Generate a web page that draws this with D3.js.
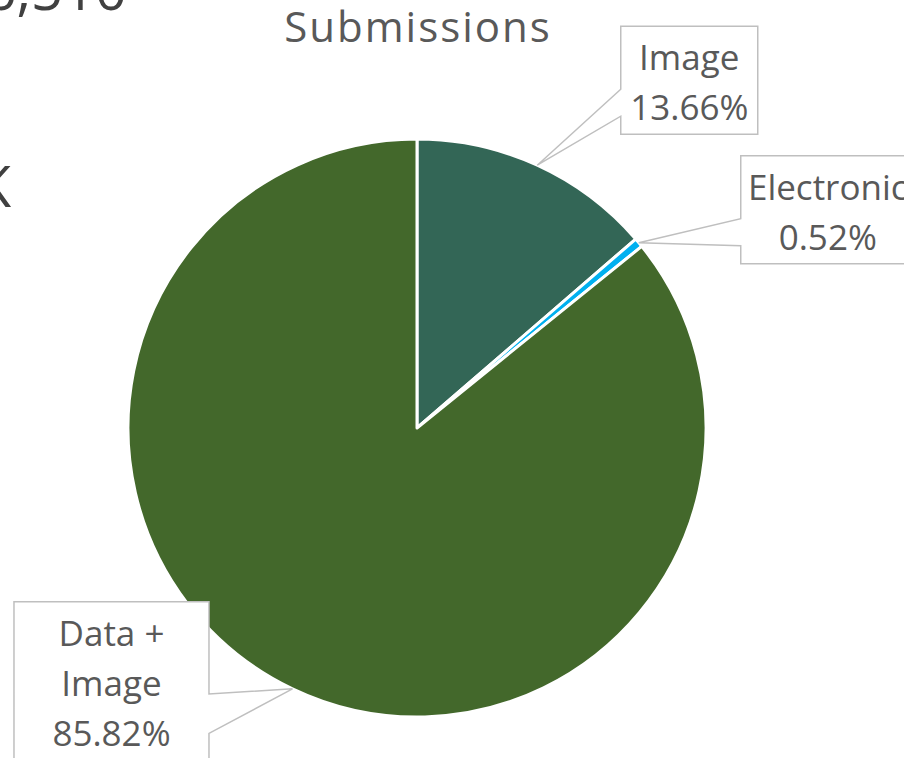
<!DOCTYPE html>
<html>
<head>
<meta charset="utf-8">
<script src="https://cdn.jsdelivr.net/npm/d3@7"></script>
<style>
body { margin: 0; background: #fff; }
svg { display: block; }
text { font-family: "Open Sans", "Noto Sans", sans-serif; fill: #595959; }
</style>
</head>
<body>
<script>
var categories = ["Image", "Electronic", "Data + Image"];
var shares = [13.66, 0.52, 85.82];
var labelLines = [["Image"], ["Electronic"], ["Data +", "Image"]];
var colors = ["#336656", "#00B0F0", "#43682B"];

var width = 904, height = 758;
var cx = 417, cy = 428, radius = 289;

// callout boxes: offset of box centre from the slice's anchor point, and box size
var boxLayout = [
  {dx: 152, dy: -85, w: 137, h: 108},
  {dx: 189, dy: -33, w: 174, h: 108},
  {dx: -181, dy: -8, w: 195, h: 158}
];

var data = categories.map(function(c, i) { return {name: c, value: shares[i], lines: labelLines[i]}; });

var svg = d3.select("body").append("svg")
  .attr("width", width)
  .attr("height", height);

// fragments of the neighbouring slide content, cut off by the crop
svg.append("text")
  .attr("x", 127).attr("y", 10)
  .attr("text-anchor", "end")
  .style("font-size", "56px")
  .style("fill", "#404040")
  .text("36,510");
svg.append("text")
  .attr("x", 11).attr("y", 207)
  .attr("text-anchor", "end")
  .style("font-size", "56px")
  .style("fill", "#404040")
  .text("K");

svg.append("text")
  .attr("x", cx + 1).attr("y", 42)
  .attr("text-anchor", "middle")
  .style("font-size", "42px")
  .style("letter-spacing", "2px")
  .text("Submissions");

var pie = d3.pie().sort(null).value(function(d) { return d.value; });
var arc = d3.arc().innerRadius(0).outerRadius(radius);
var arcs = pie(data);

var chartGroup = svg.append("g")
  .attr("transform", "translate(" + cx + "," + cy + ")");

chartGroup.selectAll("path.slice")
  .data(arcs)
  .enter().append("path")
  .attr("class", "slice")
  .attr("d", arc)
  .attr("fill", function(d, i) { return colors[i]; })
  .attr("stroke", "#fff")
  .attr("stroke-width", 3)
  .attr("stroke-linejoin", "round");

function calloutPath(x0, y0, x1, y1, ax, ay) {
  var w = x1 - x0, h = y1 - y0;
  var mx = (x0 + x1) / 2, my = (y0 + y1) / 2;
  var lower = ay > my;
  var b1 = lower ? y0 + h * 7 / 12 : y0 + h / 6;
  var b2 = lower ? y0 + h * 5 / 6 : y0 + h * 5 / 12;
  if (Math.abs(ax - mx) / w >= Math.abs(ay - my) / h) {
    if (ax < mx) {
      return "M" + x0 + "," + y0 + "L" + x1 + "," + y0 + "L" + x1 + "," + y1 + "L" + x0 + "," + y1 +
        "L" + x0 + "," + b2 + "L" + ax + "," + ay + "L" + x0 + "," + b1 + "Z";
    }
    return "M" + x0 + "," + y0 + "L" + x1 + "," + y0 + "L" + x1 + "," + b1 + "L" + ax + "," + ay +
      "L" + x1 + "," + b2 + "L" + x1 + "," + y1 + "L" + x0 + "," + y1 + "Z";
  }
  return "M" + x0 + "," + y0 + "L" + x1 + "," + y0 + "L" + x1 + "," + y1 + "L" + x0 + "," + y1 + "Z";
}

var labels = chartGroup.selectAll("g.label")
  .data(arcs)
  .enter().append("g")
  .attr("class", "label");

labels.each(function(d, i) {
  var g = d3.select(this);
  var a = (d.startAngle + d.endAngle) / 2;
  var ax = radius * Math.sin(a), ay = -radius * Math.cos(a);
  var L = boxLayout[i];
  var bx = ax + L.dx, by = ay + L.dy;
  var x0 = bx - L.w / 2, y0 = by - L.h / 2;

  g.append("path")
    .attr("d", calloutPath(x0, y0, x0 + L.w, y0 + L.h, ax, ay))
    .attr("fill", "#fff")
    .attr("stroke", "#BFBFBF")
    .attr("stroke-width", 1.5);

  var lines = d.data.lines.concat([d.data.value.toFixed(2) + "%"]);
  g.selectAll("text")
    .data(lines)
    .enter().append("text")
    .attr("x", bx)
    .attr("y", function(t, j) { return y0 + 44 + j * 50; })
    .attr("text-anchor", "middle")
    .style("font-size", "35px")
    .text(function(t) { return t; });
});
</script>
</body>
</html>
